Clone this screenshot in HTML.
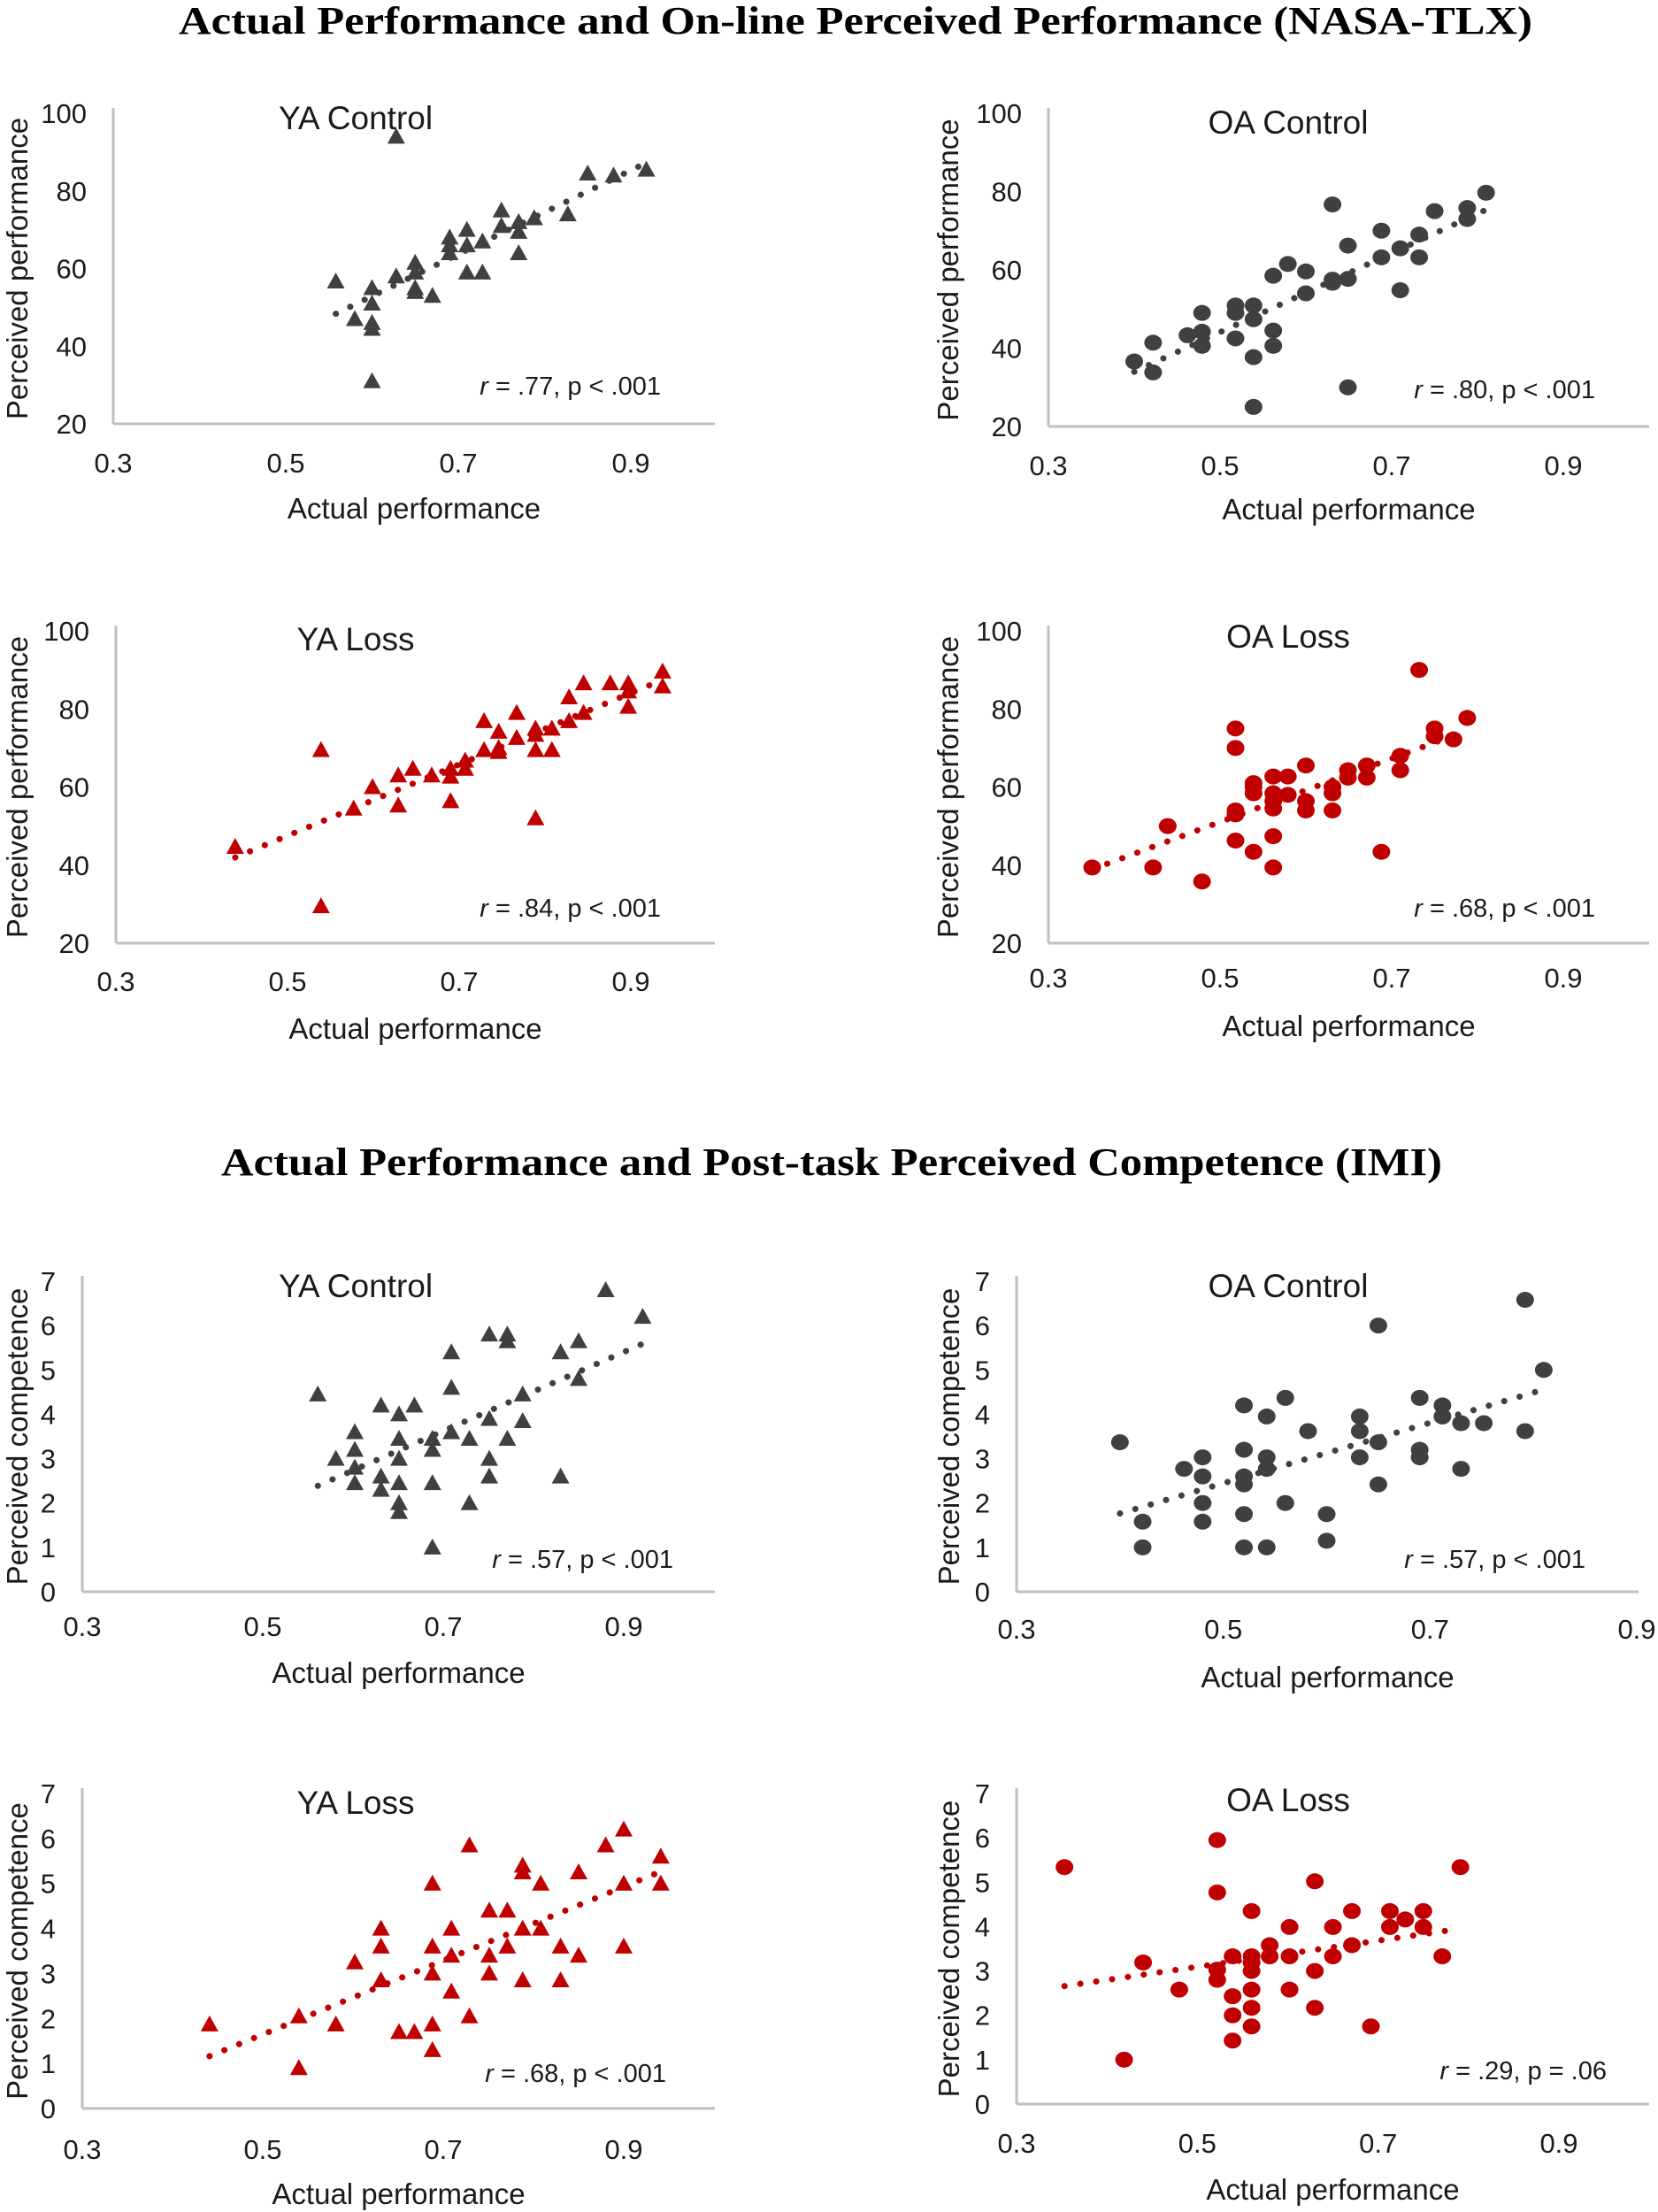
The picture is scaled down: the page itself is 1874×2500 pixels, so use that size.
<!DOCTYPE html>
<html><head><meta charset="utf-8">
<style>
html,body{margin:0;padding:0;background:#fff;}
svg{display:block;font-family:"Liberation Sans",Arial,sans-serif;}
</style></head>
<body>
<svg id="fig" width="1874" height="2500" viewBox="0 0 1874 2500" xmlns="http://www.w3.org/2000/svg">
<text x="967" y="38" text-anchor="middle" font-family="Liberation Serif, serif" font-weight="bold" font-size="44" textLength="1530" lengthAdjust="spacingAndGlyphs">Actual Performance and On-line Perceived Performance (NASA-TLX)</text>
<text x="940" y="1328" text-anchor="middle" font-family="Liberation Serif, serif" font-weight="bold" font-size="44" textLength="1380" lengthAdjust="spacingAndGlyphs">Actual Performance and Post-task Perceived Competence (IMI)</text>
</svg>
<script>
// ---- data (x = actual performance, y = perceived) ----
const p1x=[0.558,0.58,0.60,0.60,0.60,0.60,0.60,0.628,0.628,0.65,0.65,0.65,0.65,0.67,0.69,0.69,0.69,0.71,0.71,0.71,0.728,0.728,0.75,0.75,0.77,0.77,0.77,0.788,0.827,0.85,0.88,0.918];
const p1y=[56.7,47,55,51,46,44.5,31,94,58,61.5,59,55,54,53,68,66,64,70,66,59,59,67,75,71,72,69.5,64,73,74,84.5,84,85.5];
const p2x=[0.40,0.422,0.422,0.462,0.479,0.479,0.479,0.518,0.518,0.518,0.539,0.539,0.539,0.539,0.562,0.562,0.562,0.579,0.60,0.60,0.631,0.631,0.631,0.649,0.649,0.649,0.688,0.688,0.71,0.71,0.732,0.732,0.75,0.788,0.788,0.81];
const p2y=[36.6,41.4,33.8,43.3,49,44.2,40.6,50.9,49,42.5,50.9,47.4,37.7,25,58.5,44.5,40.6,61.5,59.6,54,76.7,57.5,56.7,66.2,57.7,30,70,63.2,65.5,54.8,69,63.2,75,75.8,73,79.7];
const p3x=[0.439,0.539,0.539,0.577,0.599,0.629,0.629,0.646,0.668,0.69,0.69,0.69,0.707,0.707,0.729,0.729,0.746,0.746,0.746,0.767,0.767,0.789,0.789,0.789,0.789,0.808,0.808,0.828,0.828,0.845,0.845,0.876,0.897,0.897,0.897,0.937,0.937];
const p3y=[44.7,69.5,29.5,54.5,60,63,55.3,64.7,63,64.7,62.7,56.4,66.8,64.7,76.9,69.5,74.2,70,69,79,72.6,75,73.4,69.5,52,75,69.5,83,76.9,86.6,79,86.6,86.6,84.5,80.6,89.6,85.8];
const p4x=[0.351,0.422,0.439,0.479,0.518,0.518,0.518,0.518,0.518,0.539,0.539,0.539,0.539,0.562,0.562,0.562,0.562,0.562,0.562,0.579,0.579,0.60,0.60,0.60,0.631,0.631,0.631,0.649,0.649,0.671,0.671,0.688,0.71,0.71,0.732,0.75,0.75,0.772,0.788];
const p4y=[39.4,39.4,50,35.8,75,70,54,53,46.3,61,60,58.4,43.4,62.7,58.4,56.4,54.5,47.4,39.4,62.7,58,65.5,56.4,54,60,58.4,54,64.3,62.4,65.5,62.4,43.4,68,64.3,90,75,73,72.2,77.7];
const p5x=[0.561,0.581,0.602,0.602,0.602,0.602,0.631,0.631,0.631,0.651,0.651,0.651,0.651,0.651,0.651,0.668,0.688,0.688,0.688,0.688,0.709,0.709,0.709,0.729,0.729,0.751,0.751,0.751,0.751,0.771,0.771,0.771,0.788,0.788,0.83,0.83,0.85,0.85,0.88,0.921];
const p5y=[4.45,3.0,3.6,3.2,2.8,2.45,4.2,2.6,2.3,4.0,3.45,3.0,2.45,2.0,1.8,4.2,3.45,3.2,2.45,1.0,5.4,4.6,3.6,3.45,2.0,5.8,3.9,3.0,2.6,5.8,5.65,3.45,4.45,3.85,5.4,2.6,5.65,4.8,6.8,6.2];
const p6x=[0.40,0.422,0.422,0.462,0.48,0.48,0.48,0.48,0.52,0.52,0.52,0.52,0.52,0.52,0.542,0.542,0.542,0.542,0.56,0.56,0.582,0.60,0.60,0.632,0.632,0.632,0.65,0.65,0.65,0.69,0.69,0.69,0.712,0.712,0.73,0.73,0.752,0.792,0.792,0.81];
const p6y=[3.37,1.58,1.0,2.77,3.03,2.6,2.0,1.58,4.2,3.2,2.6,2.42,1.75,1.0,3.95,3.03,2.77,1.0,4.37,2.0,3.62,1.75,1.15,3.95,3.62,3.03,6.0,3.37,2.42,4.37,3.2,3.03,4.2,3.95,3.8,2.77,3.8,6.58,3.62,5.0];
const p7x=[0.441,0.54,0.54,0.581,0.602,0.631,0.631,0.631,0.651,0.668,0.688,0.688,0.688,0.688,0.688,0.709,0.709,0.709,0.729,0.729,0.751,0.751,0.751,0.771,0.771,0.788,0.788,0.788,0.788,0.808,0.808,0.83,0.83,0.85,0.85,0.88,0.9,0.9,0.9,0.941,0.941];
const p7y=[1.87,2.05,0.9,1.87,3.25,4.0,3.6,2.85,1.7,1.7,5.0,3.6,3.0,1.87,1.3,4.0,3.4,2.6,5.85,2.05,4.4,3.4,3.0,4.4,3.6,5.4,5.25,4.0,2.85,5.0,4.0,3.6,2.85,5.25,3.4,5.85,6.2,5.0,3.6,5.6,5.0];
const p8x=[0.353,0.419,0.44,0.48,0.522,0.522,0.522,0.522,0.539,0.539,0.539,0.539,0.56,0.56,0.56,0.56,0.56,0.56,0.56,0.58,0.58,0.602,0.602,0.602,0.63,0.63,0.63,0.65,0.65,0.671,0.671,0.692,0.713,0.713,0.73,0.75,0.75,0.771,0.791];
const p8y=[5.34,1.0,3.19,2.58,5.95,4.77,3.03,2.8,3.33,2.43,2.0,1.43,4.35,3.33,3.19,3.0,2.58,2.17,1.75,3.58,3.33,3.99,3.33,2.58,5.02,3.0,2.17,3.99,3.33,4.35,3.58,1.75,4.35,3.99,4.16,4.35,3.99,3.33,5.34];
const xTicks=["0.3","0.5","0.7","0.9"];
const perfTicks=["20","40","60","80","100"];
const compTicks=["0","1","2","3","4","5","6","7"];
const titles=["YA Control","OA Control","YA Loss","OA Loss","YA Control","OA Control","YA Loss","OA Loss"];
const stats=["= .77, p < .001","= .80, p < .001","= .84, p < .001","= .68, p < .001","= .57, p < .001","= .57, p < .001","= .68, p < .001","= .29, p = .06"];

const NS="http://www.w3.org/2000/svg";
const svg=document.getElementById('fig');
function mk(tag,attrs,parent){const e=document.createElementNS(NS,tag);for(const k in attrs)e.setAttribute(k,attrs[k]);(parent||svg).appendChild(e);return e;}

const panels=[
 {xs:p1x,ys:p1y,x0:128,x09:713,xEnd:808,yTop:128,yBot:479,perf:true,tri:true,red:false,tx:402,ty:146,sx:747,sy:446,xtY:534,xlY:586,ylX:19,name:'ya-control-performance'},
 {xs:p2x,ys:p2y,x0:1185,x09:1767,xEnd:1864,yTop:128,yBot:482,perf:true,tri:false,red:false,tx:1456,ty:151,sx:1803,sy:450,xtY:537,xlY:587,ylX:1071,name:'oa-control-performance'},
 {xs:p3x,ys:p3y,x0:131,x09:713,xEnd:808,yTop:713,yBot:1066,perf:true,tri:true,red:true,tx:402,ty:735,sx:747,sy:1036,xtY:1120,xlY:1174,ylX:19,name:'ya-loss-performance'},
 {xs:p4x,ys:p4y,x0:1185,x09:1767,xEnd:1864,yTop:713,yBot:1066,perf:true,tri:false,red:true,tx:1456,ty:732,sx:1803,sy:1036,xtY:1116,xlY:1171,ylX:1071,name:'oa-loss-performance'},
 {xs:p5x,ys:p5y,x0:93,x09:705,xEnd:808,yTop:1448,yBot:1799,perf:false,tri:true,red:false,tx:402,ty:1466,sx:761,sy:1772,xtY:1849,xlY:1902,ylX:19,name:'ya-control-competence'},
 {xs:p6x,ys:p6y,x0:1149,x09:1850,xEnd:1852,yTop:1448,yBot:1799,perf:false,tri:false,red:false,tx:1456,ty:1466,sx:1792,sy:1772,xtY:1852,xlY:1907,ylX:1072,name:'oa-control-competence'},
 {xs:p7x,ys:p7y,x0:93,x09:705,xEnd:808,yTop:2027,yBot:2383,perf:false,tri:true,red:true,tx:402,ty:2050,sx:753,sy:2353,xtY:2440,xlY:2491,ylX:19,name:'ya-loss-competence'},
 {xs:p8x,ys:p8y,x0:1149,x09:1762,xEnd:1864,yTop:2027,yBot:2378,perf:false,tri:false,red:true,tx:1456,ty:2047,sx:1816,sy:2350,xtY:2433,xlY:2486,ylX:1072,name:'oa-loss-competence'}
];

panels.forEach((P,i)=>{
  const g=mk('g',{});
  
  
  const yMin=P.perf?20:0, yMax=P.perf?100:7;
  const sxF=v=>P.x0+(v-0.3)*(P.x09-P.x0)/0.6;
  const syF=v=>P.yBot-(v-yMin)*(P.yBot-P.yTop)/(yMax-yMin);
  const col=P.red?'#c00000':'#404040';
  const yax=mk('line',{x1:P.x0,y1:P.yTop-6,x2:P.x0,y2:P.yBot,stroke:'#bfbfbf','stroke-width':3},g);
  
  
  const xax=mk('line',{x1:P.x0,y1:P.yBot,x2:P.xEnd,y2:P.yBot,stroke:'#bfbfbf','stroke-width':3},g);
  
  
  const yt=P.perf?perfTicks:compTicks;
  yt.forEach(t=>{
    const e=mk('text',{x:P.x0-30,y:syF(+t)+11,'text-anchor':'end','font-size':31,fill:'#1a1a1a'},g);
    e.textContent=t;
    
    
  });
  xTicks.forEach(t=>{
    const e=mk('text',{x:sxF(+t),y:P.xtY,'text-anchor':'middle','font-size':31,fill:'#1a1a1a'},g);
    e.textContent=t;
    
    
  });
  const xl=mk('text',{x:(P.x0+P.xEnd)/2,y:P.xlY,'text-anchor':'middle','font-size':33,fill:'#1a1a1a'},g);
  xl.textContent='Actual performance';
  
  
  const ycx=P.ylX, ycy=(P.yTop+P.yBot)/2;
  const yl=mk('text',{x:ycx,y:ycy,'text-anchor':'middle','font-size':33,fill:'#1a1a1a',transform:`rotate(-90 ${ycx} ${ycy})`,dy:12},g);
  yl.textContent=P.perf?'Perceived performance':'Perceived competence';
  
  
  const ti=mk('text',{x:P.tx,y:P.ty,'text-anchor':'middle','font-size':37,fill:'#1a1a1a'},g);
  ti.textContent=titles[i];
  
  
  const st=mk('text',{x:P.sx,y:P.sy,'text-anchor':'end','font-size':29,fill:'#1a1a1a'},g);
  const it=mk('tspan',{'font-style':'italic'},st); it.textContent='r';
  const rest=mk('tspan',{},st); rest.textContent=' '+stats[i];
  
  
  const n=P.xs.length; let mx=0,my=0; for(let k=0;k<n;k++){mx+=P.xs[k];my+=P.ys[k];} mx/=n; my/=n;
  let sxy=0,sxx=0; for(let k=0;k<n;k++){sxy+=(P.xs[k]-mx)*(P.ys[k]-my);sxx+=(P.xs[k]-mx)**2;}
  const b=sxy/sxx,a=my-b*mx; const xa=Math.min(...P.xs),xb=Math.max(...P.xs);
  const tl=mk('line',{x1:sxF(xa),y1:syF(a+b*xa),x2:sxF(xb),y2:syF(a+b*xb),stroke:col,'stroke-width':7,'stroke-linecap':'round','stroke-dasharray':'0.1 18'},g);
  
  
  for(let k=0;k<n;k++){
    const cx=sxF(P.xs[k]), cy=syF(P.ys[k]);
    let m;
    if(P.tri){ m=mk('polygon',{points:`${cx},${cy-10} ${cx-10},${cy+8} ${cx+10},${cy+8}`,fill:col},g); }
    else { m=mk('ellipse',{cx:cx,cy:cy,rx:10,ry:9,fill:col},g); }
    
    
  }
});
</script>
</body></html>
